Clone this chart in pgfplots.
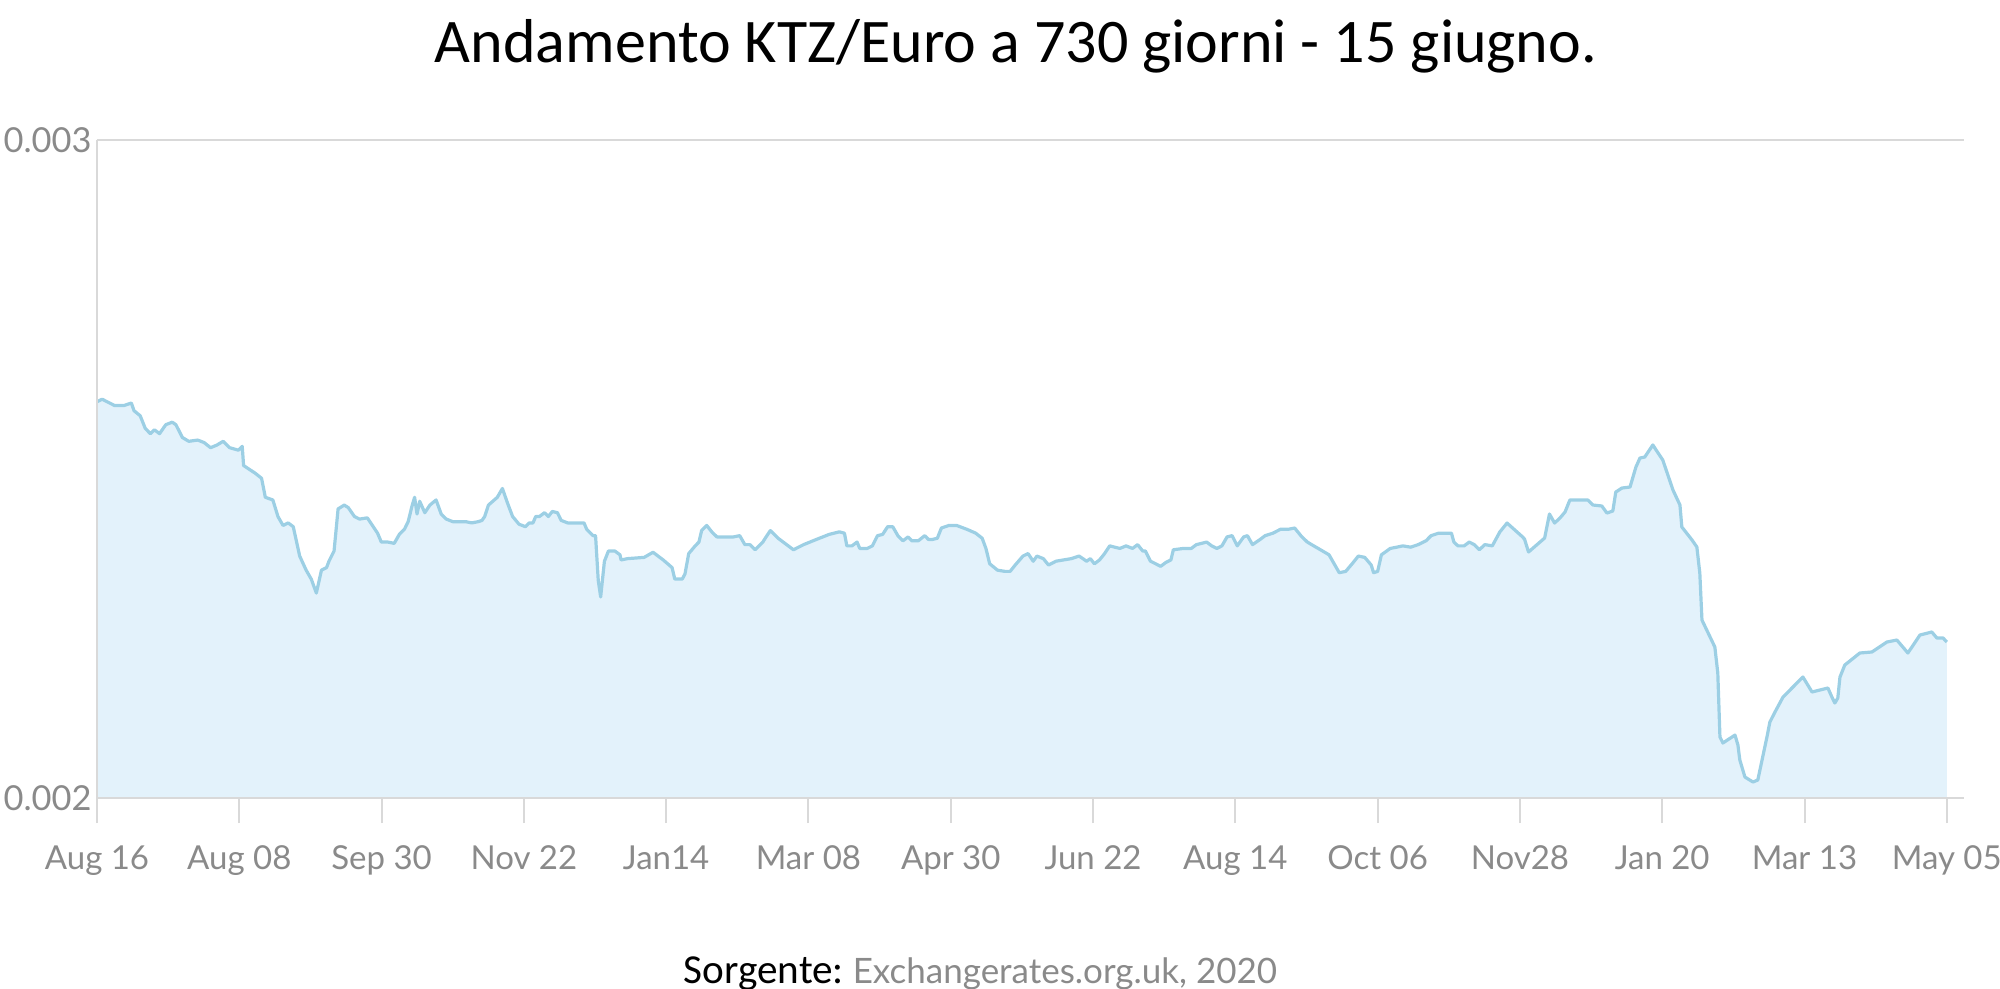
\documentclass[border=0pt]{standalone}
\usepackage{fontspec}
\setmainfont{Lato}
\newfontfamily\titlefont{Carlito}
\usepackage{pgfplots}
\usepackage{pgfplotstable}
\pgfplotsset{compat=1.18}
\definecolor{linec}{HTML}{9CCFE4}
\definecolor{fillc}{HTML}{E3F2FB}
\definecolor{gridc}{HTML}{D9D9D9}
\definecolor{labc}{HTML}{8A8A8A}

\pgfplotstableread{
x y
0 0.0026022
1.9 0.0026061
6.6 0.0025964
10.0 0.0025964
12.8 0.0026003
13.8 0.0025886
16.1 0.0025809
18.0 0.0025615
19.9 0.0025537
21.4 0.0025596
23.3 0.0025537
25.6 0.0025673
28.0 0.0025712
29.4 0.0025673
31.8 0.0025479
34.2 0.0025421
37.5 0.0025440
39.9 0.0025402
42.3 0.0025324
44.6 0.0025363
47.0 0.0025421
49.4 0.0025324
52.7 0.0025286
54.1 0.0025344
54.6 0.0025053
58.9 0.0024937
61.3 0.0024859
62.7 0.0024570
65.5 0.0024530
67.4 0.0024278
69.3 0.0024142
71.2 0.0024181
73.1 0.0024123
75.5 0.0023677
77.9 0.0023463
79.8 0.0023328
81.7 0.0023115
83.6 0.0023463
85.5 0.0023502
86.4 0.0023599
88.3 0.0023754
89.8 0.0024394
92.1 0.0024452
93.6 0.0024413
95.9 0.0024278
97.8 0.0024239
100.7 0.0024258
102.6 0.0024142
104.5 0.0024025
105.9 0.0023890
108.3 0.0023890
110.7 0.0023870
112.6 0.0024006
114.5 0.0024084
115.9 0.0024200
117.3 0.0024433
118.3 0.0024570
119.2 0.0024316
120.2 0.0024510
122.1 0.0024336
124.0 0.0024452
126.3 0.0024530
128.2 0.0024316
130.1 0.0024239
132.5 0.0024200
137.3 0.0024200
139.6 0.0024181
142.0 0.0024200
143.4 0.0024219
144.4 0.0024278
145.8 0.0024452
149.1 0.0024570
151.0 0.0024704
153.0 0.0024472
154.8 0.0024278
157.2 0.0024161
159.6 0.0024123
161.0 0.0024181
162.4 0.0024181
163.4 0.0024278
164.8 0.0024278
166.7 0.0024336
168.1 0.0024278
169.6 0.0024355
171.5 0.0024336
172.9 0.0024219
175.3 0.0024181
181.4 0.0024181
182.4 0.0024084
184.8 0.0023987
185.7 0.0023987
186.7 0.0023308
187.6 0.0023056
189.0 0.0023599
190.5 0.0023754
192.9 0.0023754
194.8 0.0023696
195.2 0.0023618
197.6 0.0023638
203.8 0.0023657
207.1 0.0023735
210.9 0.0023618
214.2 0.0023502
215.2 0.0023328
218.0 0.0023328
219.0 0.0023405
220.4 0.0023715
222.8 0.0023832
224.2 0.0023890
225.2 0.0024064
227.1 0.0024142
229.0 0.0024045
230.9 0.0023968
237.0 0.0023968
239.4 0.0023987
241.3 0.0023851
243.2 0.0023851
245.1 0.0023773
248.0 0.0023890
248.9 0.0023948
250.8 0.0024064
253.7 0.0023948
259.4 0.0023773
263.2 0.0023851
267.9 0.0023929
272.7 0.0024006
276.5 0.0024045
278.4 0.0024025
279.3 0.0023832
281.2 0.0023832
283.1 0.0023890
284.1 0.0023793
286.9 0.0023793
288.8 0.0023832
290.7 0.0023987
292.6 0.0024006
294.5 0.0024123
296.4 0.0024123
298.3 0.0023987
300.2 0.0023909
302.1 0.0023968
303.5 0.0023909
305.9 0.0023909
308.3 0.0023987
309.7 0.0023929
311.1 0.0023929
313.0 0.0023948
314.5 0.0024103
317.3 0.0024142
320.2 0.0024142
324.0 0.0024084
327.3 0.0024025
329.7 0.0023948
331.1 0.0023793
332.5 0.0023560
335.4 0.0023463
338.2 0.0023444
340.1 0.0023444
342.0 0.0023541
344.9 0.0023677
346.8 0.0023715
348.7 0.0023599
350.1 0.0023677
352.5 0.0023638
354.4 0.0023541
357.2 0.0023599
362.9 0.0023638
365.8 0.0023677
368.6 0.0023599
370.0 0.0023638
371.5 0.0023560
373.4 0.0023618
375.3 0.0023715
377.2 0.0023832
379.1 0.0023812
381.0 0.0023793
383.3 0.0023832
385.7 0.0023793
387.6 0.0023851
389.5 0.0023754
390.5 0.0023754
392.4 0.0023599
394.3 0.0023560
396.2 0.0023521
398.1 0.0023580
400.0 0.0023618
400.9 0.0023773
404.7 0.0023793
407.6 0.0023793
409.5 0.0023851
411.4 0.0023870
413.3 0.0023890
415.2 0.0023832
417.1 0.0023793
419.0 0.0023832
420.9 0.0023968
422.8 0.0023987
424.7 0.0023832
427.1 0.0023968
428.5 0.0023987
430.4 0.0023851
433.2 0.0023929
435.1 0.0023987
438.0 0.0024025
440.8 0.0024084
443.7 0.0024084
446.1 0.0024103
448.4 0.0023987
450.8 0.0023890
453.2 0.0023832
456.5 0.0023754
458.9 0.0023696
460.8 0.0023560
462.7 0.0023424
465.1 0.0023444
467.5 0.0023560
469.8 0.0023677
472.2 0.0023657
474.6 0.0023541
475.5 0.0023424
477.0 0.0023444
478.4 0.0023696
481.7 0.0023793
484.1 0.0023812
486.4 0.0023832
489.3 0.0023812
492.1 0.0023851
495.0 0.0023909
496.9 0.0023987
499.7 0.0024025
504.5 0.0024025
505.4 0.0023890
506.9 0.0023832
509.2 0.0023832
511.1 0.0023890
513.0 0.0023851
514.9 0.0023773
516.9 0.0023851
519.7 0.0023832
522.5 0.0024043
525.2 0.0024179
530.6 0.0023982
531.7 0.0023936
533.2 0.0023739
539.2 0.0023951
541.0 0.0024316
542.9 0.0024179
544.9 0.0024255
546.8 0.0024347
548.6 0.0024529
555.3 0.0024529
557.2 0.0024453
560.5 0.0024438
562.4 0.0024331
564.6 0.0024362
565.7 0.0024650
568.0 0.0024711
571.0 0.0024726
573.2 0.0025030
574.7 0.0025167
576.5 0.0025182
579.5 0.0025365
583.2 0.0025137
587.0 0.0024681
589.6 0.0024453
590.3 0.0024119
594.1 0.0023921
595.9 0.0023815
597.0 0.0023419
597.8 0.0022705
602.6 0.0022295
603.7 0.0021900
604.5 0.0020927
605.6 0.0020836
610.1 0.0020957
611.2 0.0020805
611.9 0.0020578
613.8 0.0020319
616.8 0.0020243
618.6 0.0020274
622.0 0.0020927
623.1 0.0021155
625.0 0.0021307
628.0 0.0021535
635.4 0.0021839
638.8 0.0021611
644.7 0.0021672
646.2 0.0021535
647.3 0.0021444
648.4 0.0021520
649.2 0.0021839
651.0 0.0022021
656.6 0.0022204
661.1 0.0022219
666.7 0.0022371
670.4 0.0022401
674.5 0.0022204
679.0 0.0022477
683.4 0.0022523
685.3 0.0022432
687.6 0.0022432
689.0 0.0022371
}\ktz

\begin{document}
\begin{tikzpicture}
\begin{axis}[
  scale only axis, width=466.75pt, height=164.5pt,
  xmin=0, xmax=695.4, ymin=0.002, ymax=0.003,
  axis lines=left,
  axis line style={-, draw=gridc, line width=0.65pt},
  ytick={0.002,0.003}, yticklabels={0.002,0.003},
  scaled y ticks=false,
  xtick={0,53,106,159,212,265,318,371,424,477,530,583,636,689},
  xticklabels={Aug 16,Aug 08,Sep 30,Nov 22,Jan14,Mar 08,Apr 30,Jun 22,Aug 14,Oct 06,Nov28,Jan 20,Mar 13,May 05},
  ymajorgrids, grid style={draw=gridc, line width=0.65pt},
  tick align=outside, major tick length=6.25pt,
  xtick style={draw=gridc, line width=0.5pt},
  ytick style={draw=none},
  tick label style={font=\fontsize{8.25}{10}\selectfont, text=labc},
  yticklabel style={anchor=east, inner sep=0pt, xshift=5.1pt, font=\fontsize{8.6}{10}\selectfont},
  xticklabel style={anchor=north, inner sep=0pt, yshift=-5.5pt},
  axis on top,
]
\addplot[fill=fillc, draw=none] table[x=x, y=y]{\ktz} \closedcycle;
\addplot[linec, line width=0.8pt, line join=round] table[x=x, y=y]{\ktz};
\end{axis}
\node[anchor=base, inner sep=0pt, font=\titlefont\fontsize{15.5}{18}\selectfont] at (229.75pt,184pt) {Andamento KTZ/Euro a 730 giorni - 15 giugno.};
\node[anchor=base west, inner sep=0pt] at (146.5pt,-46.25pt) {{\titlefont\fontsize{10.3}{12}\selectfont Sorgente:}\hspace{2.2pt}{\fontsize{8.75}{11}\selectfont\color{labc}Exchangerates.org.uk, 2020}};
\pgfresetboundingbox
\path[use as bounding box] (-24.25pt,-47.5pt) rectangle (475.75pt,199.5pt);
\end{tikzpicture}
\end{document}
